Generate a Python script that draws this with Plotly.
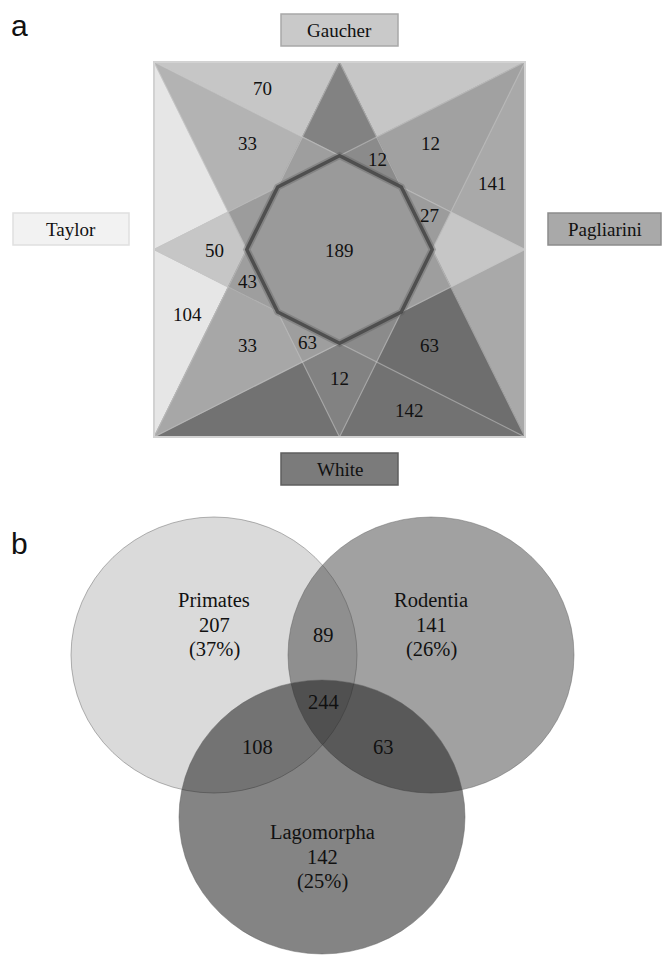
import plotly.graph_objects as go

# ---------------- data ----------------
# Panel a: four-set star Venn (G=Gaucher, T=Taylor, P=Pagliarini, W=White)
set_names_a = ["Gaucher", "Taylor", "Pagliarini", "White"]
set_keys_a = ["G", "T", "P", "W"]
region_keys_a = ["G", "T", "P", "W", "GT", "GP", "GW", "TP", "TW", "PW",
                 "GTP", "GTW", "GPW", "TPW", "GTPW"]
region_counts_a = [70, 104, 141, 142, 33, 12, 12, 50, 33, 63,
                   27, 63, 12, 43, 189]

# Panel b: three-set Venn
set_names_b = ["Primates", "Rodentia", "Lagomorpha"]
unique_counts_b = [207, 141, 142]
unique_pct_b = [37, 26, 25]
overlap_keys_b = ["PR", "PL", "RL", "PRL"]
overlap_counts_b = [89, 108, 63, 244]

# ---------------- layout / style ----------------
W, H = 662, 955
SERIF = "Liberation Serif"
SANS = "Liberation Sans"

# square geometry for panel a (pixels)
CX, CY, HX, HY = 339.5, 249.5, 185.5, 187.5

def P(x, y):
    return (CX + x * HX, CY - y * HY)

triangles = {
    "G": [P(-1, 1), P(1, 1), P(0, -1)],
    "T": [P(-1, 1), P(-1, -1), P(1, 0)],
    "P": [P(1, 1), P(1, -1), P(-1, 0)],
    "W": [P(-1, -1), P(1, -1), P(0, 1)],
}

region_colors_a = {
    "G": "#c6c6c6", "T": "#e6e6e6", "P": "#a9a9a9", "W": "#727272",
    "GT": "#b3b3b3", "GP": "#a1a1a1", "GW": "#828282", "TP": "#c6c6c6",
    "TW": "#a7a7a7", "PW": "#6e6e6e", "GTP": "#9c9c9c", "GTW": "#9e9e9e",
    "GPW": "#8b8b8b", "TPW": "#9e9e9e", "GTPW": "#9a9a9a",
}

label_pos_a = {
    "G": (262, 88), "T": (187, 314), "P": (492, 183), "W": (409, 410),
    "GT": (247, 143), "GP": (430, 143), "GW": (339, 378), "TP": (214, 250),
    "TW": (247, 345), "PW": (429, 345), "GTP": (429, 215), "GTW": (307, 342),
    "GPW": (377, 159), "TPW": (247, 281), "GTPW": (339, 250),
}

boxes_a = {
    "Gaucher": dict(x0=281, x1=398, y0=14, y1=46, fill="#c9c9c9", line="#a8a8a8"),
    "Taylor": dict(x0=13, x1=129, y0=213, y1=245, fill="#f2f2f2", line="#e0e0e0"),
    "Pagliarini": dict(x0=548, x1=661, y0=213, y1=245, fill="#a9a9a9", line="#8c8c8c"),
    "White": dict(x0=281, x1=398, y0=453, y1=485, fill="#7b7b7b", line="#5f5f5f"),
}

# panel b ellipses (pixels)
ellipses_b = [
    dict(x0=71, x1=357, y0=517, y1=793, fill="rgba(0,0,0,0.145)"),
    dict(x0=288, x1=574, y0=517, y1=793, fill="rgba(70,70,70,0.51)"),
    dict(x0=179, x1=465, y0=680, y1=954, fill="rgba(28,28,28,0.54)"),
]
name_pos_b = [(214, 600), (431, 600), (322, 832)]
overlap_pos_b = {"PR": (323, 635), "PL": (257, 747), "RL": (383, 747), "PRL": (323, 702)}


# ---------------- geometry helpers ----------------
def side(a, b, p):
    return (b[0] - a[0]) * (p[1] - a[1]) - (b[1] - a[1]) * (p[0] - a[0])


def inter(p1, p2, a, b):
    s1, s2 = side(a, b, p1), side(a, b, p2)
    t = s1 / (s1 - s2)
    return (p1[0] + t * (p2[0] - p1[0]), p1[1] + t * (p2[1] - p1[1]))


def clip(subject, clip_poly):
    mx = sum(p[0] for p in clip_poly) / len(clip_poly)
    my = sum(p[1] for p in clip_poly) / len(clip_poly)
    out = list(subject)
    n = len(clip_poly)
    for i in range(n):
        a, b = clip_poly[i], clip_poly[(i + 1) % n]
        ref = 1 if side(a, b, (mx, my)) > 0 else -1
        inp, out = out, []
        if not inp:
            break
        for j in range(len(inp)):
            cur, prev = inp[j], inp[j - 1]
            sc, sp = side(a, b, cur) * ref, side(a, b, prev) * ref
            if sc >= 0:
                if sp < 0:
                    out.append(inter(prev, cur, a, b))
                out.append(cur)
            elif sp >= 0:
                out.append(inter(prev, cur, a, b))
    return out


def path(poly):
    return "M " + " L ".join(f"{x:.2f},{y:.2f}" for x, y in poly) + " Z"


shapes = []
annotations = []

# ---- panel a: paint each intersection in order of size ----
for key in sorted(region_keys_a, key=len):
    poly = triangles[key[0]]
    for k in key[1:]:
        poly = clip(poly, triangles[k])
    if len(poly) >= 3:
        shapes.append(dict(type="path", path=path(poly), xref="x", yref="y",
                           fillcolor=region_colors_a[key],
                           line=dict(width=0.6, color=region_colors_a[key])))

# triangle edges (faint)
for k in set_keys_a:
    shapes.append(dict(type="path", path=path(triangles[k]), xref="x", yref="y",
                       fillcolor="rgba(0,0,0,0)",
                       line=dict(width=1.2, color="rgba(200,200,200,0.55)")))

# square outline
shapes.append(dict(type="rect", x0=CX - HX, x1=CX + HX, y0=CY - HY, y1=CY + HY,
                   xref="x", yref="y", line=dict(color="#d2d2d2", width=2),
                   fillcolor="rgba(0,0,0,0)"))

# central octagon outline
octa = triangles["G"]
for k in ["T", "P", "W"]:
    octa = clip(octa, triangles[k])
shapes.append(dict(type="path", path=path(octa), xref="x", yref="y",
                   fillcolor="rgba(0,0,0,0)",
                   line=dict(width=7, color="rgba(90,90,90,0.35)")))
shapes.append(dict(type="path", path=path(octa), xref="x", yref="y",
                   fillcolor="rgba(0,0,0,0)",
                   line=dict(width=3.5, color="rgba(72,72,72,0.9)")))

# region count labels
for key, cnt in zip(region_keys_a, region_counts_a):
    x, y = label_pos_a[key]
    annotations.append(dict(x=x, y=y, xref="x", yref="y", text=str(cnt),
                            showarrow=False, font=dict(family=SERIF, size=19, color="#111")))

# set label boxes
for name in set_names_a:
    b = boxes_a[name]
    shapes.append(dict(type="rect", x0=b["x0"], x1=b["x1"], y0=b["y0"], y1=b["y1"],
                       xref="x", yref="y", fillcolor=b["fill"],
                       line=dict(color=b["line"], width=1.5)))
    annotations.append(dict(x=(b["x0"] + b["x1"]) / 2, y=(b["y0"] + b["y1"]) / 2,
                            xref="x", yref="y", text=name, showarrow=False,
                            font=dict(family=SERIF, size=19, color="#111")))

# ---- panel b ----
for e in ellipses_b:
    shapes.append(dict(type="circle", x0=e["x0"], x1=e["x1"], y0=e["y0"], y1=e["y1"],
                       xref="x", yref="y", fillcolor=e["fill"],
                       line=dict(color="rgba(90,90,90,0.45)", width=1)))

for name, cnt, pct, (x, y) in zip(set_names_b, unique_counts_b, unique_pct_b, name_pos_b):
    for i, t in enumerate([name, str(cnt), f"({pct}%)"]):
        annotations.append(dict(x=x, y=y + i * 24.5, xref="x", yref="y", text=t,
                                showarrow=False,
                                font=dict(family=SERIF, size=20.5, color="#111")))

for key, cnt in zip(overlap_keys_b, overlap_counts_b):
    x, y = overlap_pos_b[key]
    annotations.append(dict(x=x, y=y, xref="x", yref="y", text=str(cnt),
                            showarrow=False, font=dict(family=SERIF, size=20.5, color="#111")))

# panel letters
annotations.append(dict(x=19, y=25, xref="x", yref="y", text="a", showarrow=False,
                        font=dict(family=SANS, size=30, color="#111")))
annotations.append(dict(x=19, y=543, xref="x", yref="y", text="b", showarrow=False,
                        font=dict(family=SANS, size=30, color="#111")))

fig = go.Figure()
fig.add_trace(go.Scatter(x=[0, W], y=[0, H], mode="markers",
                         marker=dict(opacity=0), hoverinfo="skip", showlegend=False))
fig.update_layout(
    width=W, height=H, margin=dict(l=0, r=0, t=0, b=0),
    paper_bgcolor="white", plot_bgcolor="white",
    xaxis=dict(range=[0, W], visible=False, fixedrange=True),
    yaxis=dict(range=[H, 0], visible=False, fixedrange=True),
    shapes=shapes, annotations=annotations, showlegend=False,
)
fig.write_html(
    "out.html",
    config={"displayModeBar": False},
    post_script="document.body.style.margin='0';document.body.style.overflow='hidden';",
)
